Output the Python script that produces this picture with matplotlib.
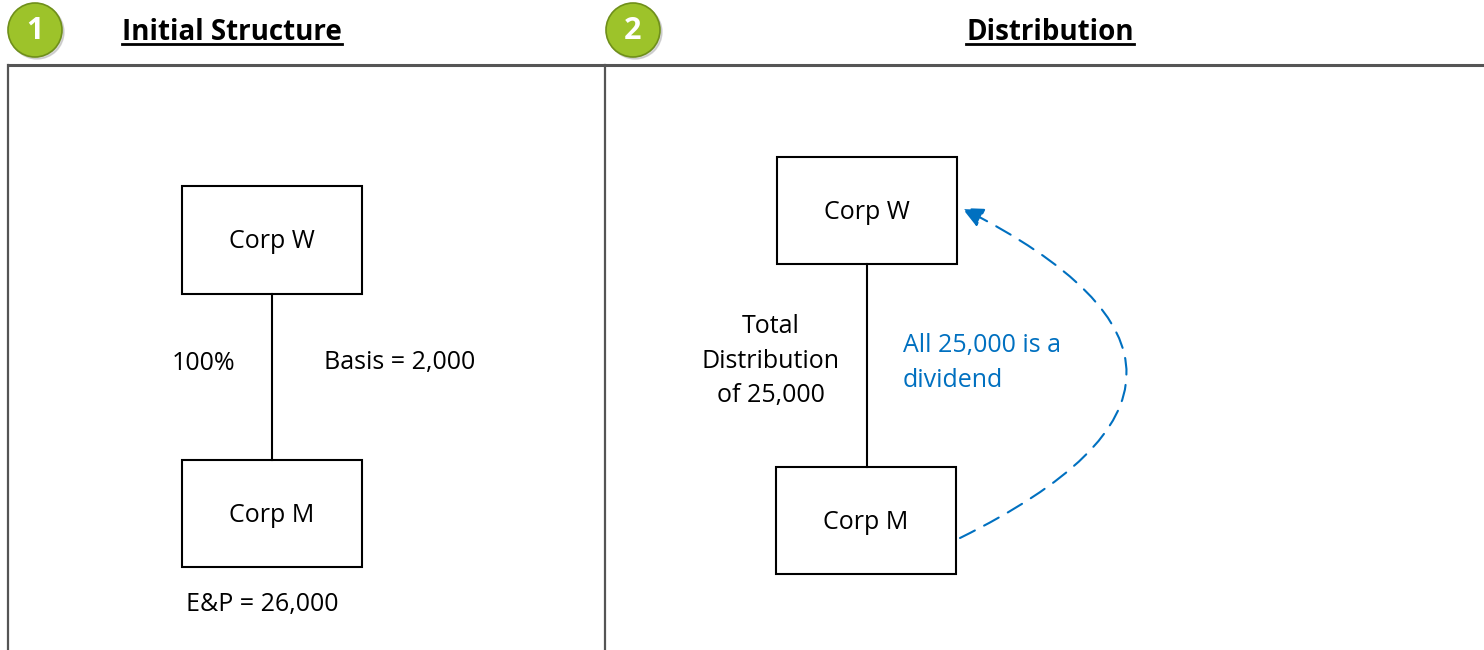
import matplotlib.pyplot as plt
from matplotlib.patches import Rectangle, Circle, FancyArrowPatch

# ==============================
# Diagram content
# ==============================
step_numbers = ["1", "2"]
step_titles = ["Initial Structure", "Distribution"]
parent_names = ["Corp W", "Corp W"]
child_names = ["Corp M", "Corp M"]
ownership_label = "100%"
basis_label = "Basis = 2,000"
ep_label = "E&P = 26,000"
distribution_label = "Total\nDistribution\nof 25,000"
dividend_label = "All 25,000 is a\ndividend"

# ==============================
# Layout (pixel coordinates, y down)
# ==============================
W, H = 1484, 650
GREEN = "#9DC32A"
BLUE = "#0070C0"
FONT = "Open Sans"
FS = 18

badge_x = [35, 633]
title_x = [232, 1050]
# boxes: (x0, y0, width, height)
parent_boxes = [(182, 186, 180, 108), (777, 157, 180, 107)]
child_boxes = [(182, 460, 180, 107), (776, 467, 180, 107)]

fig = plt.figure(figsize=(W / 100, H / 100), dpi=100)
ax = fig.add_axes([0, 0, 1, 1])
ax.set_xlim(0, W)
ax.set_ylim(H, 0)
ax.axis("off")

# frame
ax.plot([8, W], [65, 65], color="#555555", lw=2.2, solid_capstyle="butt")
ax.plot([8, 8], [65, H], color="#555555", lw=1.6)
ax.plot([605, 605], [65, H], color="#555555", lw=1.6)

# step badges + titles
for bx, tx, num, title in zip(badge_x, title_x, step_numbers, step_titles):
    ax.add_patch(Circle((bx + 2, 32), 27, color="#bbbbbb", alpha=0.6, zorder=2))
    ax.add_patch(Circle((bx, 30), 27, facecolor=GREEN, edgecolor="#6f8f1a",
                        lw=1.2, zorder=3))
    ax.text(bx, 31, num, ha="center", va="center", color="white",
            fontsize=22, fontweight="bold", family=FONT, zorder=4)
    t = ax.text(tx, 40, title, ha="center", va="baseline", fontsize=20,
                fontweight="bold", family=FONT)
    fig.canvas.draw()
    bb = t.get_window_extent().transformed(ax.transData.inverted())
    ax.plot([bb.x0, bb.x1], [44, 44], color="black", lw=2)

# boxes with connecting line
for (px, py, pw, ph), (cx, cy, cw, ch), pn, cn in zip(parent_boxes, child_boxes,
                                                      parent_names, child_names):
    ax.add_patch(Rectangle((px, py), pw, ph, facecolor="white",
                           edgecolor="black", lw=1.5))
    ax.add_patch(Rectangle((cx, cy), cw, ch, facecolor="white",
                           edgecolor="black", lw=1.5))
    ax.text(px + pw / 2, py + ph / 2 + 2, pn, ha="center", va="center",
            fontsize=FS, family=FONT)
    ax.text(cx + cw / 2, cy + ch / 2 + 2, cn, ha="center", va="center",
            fontsize=FS, family=FONT)
    mx = px + pw / 2
    ax.plot([mx, mx], [py + ph, cy], color="black", lw=1.5)

# panel 1 labels
ax.text(204, 363, ownership_label, ha="center", va="center", fontsize=FS, family=FONT)
ax.text(400, 363, basis_label, ha="center", va="center", fontsize=FS, family=FONT)
ax.text(262, 605, ep_label, ha="center", va="center", fontsize=FS, family=FONT)

# panel 2 labels
ax.text(771, 361, distribution_label, ha="center", va="center", fontsize=FS,
        family=FONT, linespacing=1.5)
ax.text(903, 363, dividend_label, ha="left", va="center", fontsize=FS,
        family=FONT, color=BLUE, linespacing=1.5)

arc = FancyArrowPatch((960, 538), (962, 208), connectionstyle="arc3,rad=1.0",
                      arrowstyle="-|>,head_length=13,head_width=6",
                      color=BLUE, lw=1.5, linestyle=(0, (8, 5)),
                      mutation_scale=1, shrinkA=0, shrinkB=0)
ax.add_patch(arc)

fig.savefig("out.png", dpi=100)
